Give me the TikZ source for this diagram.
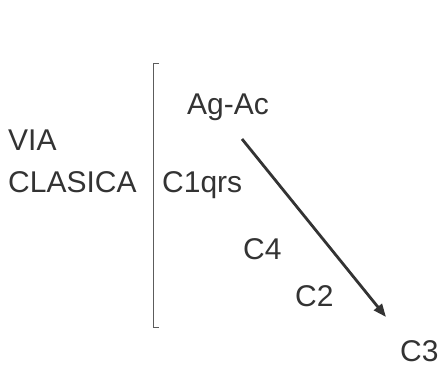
\documentclass[tikz,border=0pt]{standalone}
\usepackage{fontspec}
\setmainfont{Liberation Sans}
\usetikzlibrary{arrows.meta}
\definecolor{ink}{HTML}{333333}
\tikzset{
  lbl/.style={anchor=base west, inner sep=0pt, text=ink, font=\fontsize{30}{35}\selectfont},
  brk/.style={draw=ink!80, line width=0.9pt},
  arr/.style={draw=ink, line width=2.8pt, -{Triangle[length=13pt,width=10pt]}}
}
\begin{document}
\begin{tikzpicture}[x=1pt,y=-1pt]
\useasboundingbox (0,0) rectangle (441,366);
\node[lbl] (via) at (8,150) {VIA};
\node[lbl] (clasica) at (8,192) {CLASICA};
\node[lbl] (agac) at (187,115) {Ag-Ac};
\node[lbl] (c1qrs) at (162,192) {C1qrs};
\node[lbl] (c4) at (243,259) {C4};
\node[lbl] (c2) at (295,306) {C2};
\node[lbl] (c3) at (400,361) {C3};
\coordinate (bt) at (153,63);
\coordinate (bb) at (153,327);
\draw[brk] ([xshift=6pt]bt) -- (bt) -- (bb) -- ([xshift=6pt]bb);
\coordinate (as) at (242,139);
\coordinate (ae) at (386,317);
\draw[arr] (as) -- (ae);
\end{tikzpicture}
\end{document}
